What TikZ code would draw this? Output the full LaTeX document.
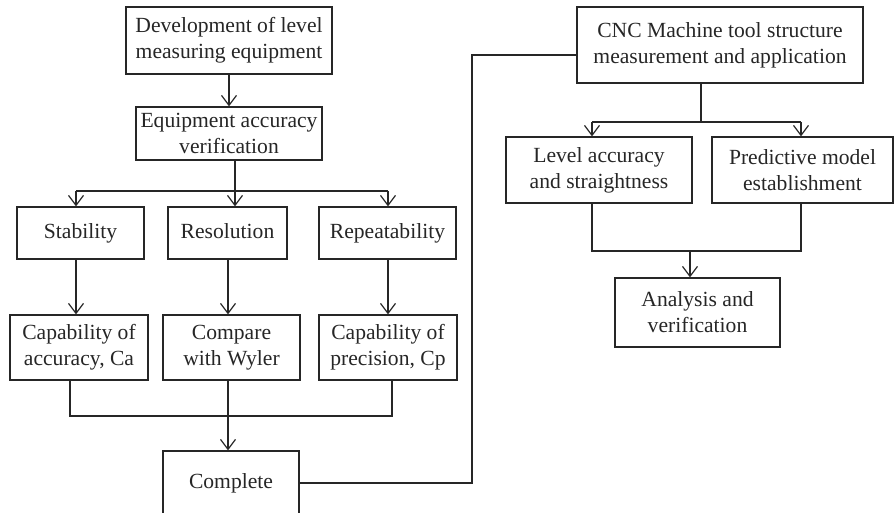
\documentclass[tikz,border=0pt]{standalone}
\usepackage{fontspec}
\setmainfont{Liberation Serif}
\usetikzlibrary{arrows.meta}

\definecolor{ink}{HTML}{262626}

\tikzset{
  box/.style={draw=ink, text=ink, line width=0.6pt, align=center, inner sep=0pt,
    font=\fontsize{10.8}{13}\selectfont},
  single/.style={text height=1.6ex, text depth=0.45ex},
  link/.style={draw=ink, line width=0.6pt},
  arr/.style={link, -{Straight Barb[length=5pt,width=7.5pt,line width=0.6pt]}},
}

\begin{document}
\begin{tikzpicture}[x=0.5pt,y=-0.5pt]
\useasboundingbox (0,0) rectangle (894,513);

% left branch: equipment development
\node[box, minimum width=103pt, minimum height=33.5pt] (dev) at (229,40.5)
  {Development of level\\measuring equipment};
\node[box, minimum width=93pt, minimum height=26.5pt] (eq) at (229,133.5)
  {Equipment accuracy\\verification};

\node[box, single, minimum width=63.5pt, minimum height=26pt] (stab) at (80.5,233) {Stability};
\node[box, single, minimum width=59.5pt, minimum height=26pt] (res) at (227.5,233) {Resolution};
\node[box, single, minimum width=68.5pt, minimum height=26pt] (rep) at (387.5,233) {Repeatability};

\node[box, minimum width=69pt, minimum height=32.5pt] (capa) at (79,347.5)
  {Capability of\\accuracy, Ca};
\node[box, minimum width=68.5pt, minimum height=32.5pt] (cmp) at (231.5,347.5)
  {Compare\\with Wyler};
\node[box, minimum width=69pt, minimum height=32.5pt] (capp) at (388,347.5)
  {Capability of\\precision, Cp};

\node[box, single, minimum width=68pt, minimum height=32pt] (comp) at (231,483) {Complete};

% right branch: machine tool application
\node[box, minimum width=143pt, minimum height=38pt] (cnc) at (720,45)
  {CNC Machine tool structure\\measurement and application};
\node[box, minimum width=93pt, minimum height=33pt] (lev) at (599,170)
  {Level accuracy\\and straightness};
\node[box, minimum width=90.5pt, minimum height=33pt] (pred) at (802.5,170)
  {Predictive model\\establishment};
\node[box, minimum width=82.5pt, minimum height=34.5pt] (ana) at (697.5,312.5)
  {Analysis and\\verification};

% junction points
\coordinate (c1) at (76,191);
\coordinate (c2) at (235,191);
\coordinate (c3) at (388,191);
\coordinate (d2) at (228,0);
\coordinate (b1) at (70,416);
\coordinate (b2) at (228,416);
\coordinate (b3) at (392,416);
\coordinate (r) at (472,55);
\coordinate (t1) at (592,122);
\coordinate (t2) at (701,122);
\coordinate (t3) at (801,122);
\coordinate (u1) at (592,251);
\coordinate (u2) at (690,251);
\coordinate (u3) at (801,251);

% connectors
\draw[arr] (dev) -- (eq);
\draw[link] (eq.south -| c2) -- (c2);
\draw[link] (c1) -- (c3);
\draw[arr] (c1) -- (stab.north -| c1);
\draw[arr] (c2) -- (res.north -| c2);
\draw[arr] (c3) -- (rep.north -| c3);

\draw[arr] (stab.south -| c1) -- (capa.north -| c1);
\draw[arr] (res.south -| d2) -- (cmp.north -| d2);
\draw[arr] (rep.south -| c3) -- (capp.north -| c3);

\draw[link] (capa.south -| b1) -- (b1) -- (b3) -- (capp.south -| b3);
\draw[arr] (cmp.south -| b2) -- (comp.north -| b2);

\draw[link] (comp.east) -| (r) -- (cnc.west |- r);

\draw[link] (cnc.south -| t2) -- (t2);
\draw[link] (t1) -- (t3);
\draw[arr] (t1) -- (lev.north -| t1);
\draw[arr] (t3) -- (pred.north -| t3);

\draw[link] (lev.south -| u1) -- (u1) -- (u3) -- (pred.south -| u3);
\draw[arr] (u2) -- (ana.north -| u2);
\end{tikzpicture}
\end{document}
